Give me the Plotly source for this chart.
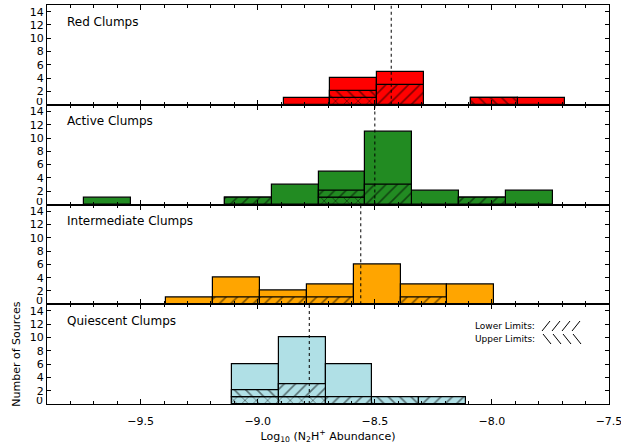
import plotly.graph_objects as go
from plotly.subplots import make_subplots

# ---- data ---------------------------------------------------------------
BIN_WIDTH = 0.2

panel_names = ["Red Clumps", "Active Clumps", "Intermediate Clumps", "Quiescent Clumps"]
panel_colors = ["#FF0000", "#228B22", "#FFA500", "#B0E0E6"]

# left edge of the first bin in each panel (log10 abundance)
bin_starts = [-8.89, -9.74, -9.39, -9.11]

# total sources per bin
red_counts = [1, 4, 5, 0, 1, 1]
active_counts = [1, 0, 0, 1, 3, 5, 11, 2, 1, 2]
intermediate_counts = [1, 4, 2, 3, 6, 3, 3]
quiescent_counts = [6, 10, 6, 1, 1]

# sources that are both upper and lower limits (cross hatch)
red_both = [0, 1, 0, 0, 0, 0]
active_both = [0, 0, 0, 0, 0, 1, 0, 0, 0, 0]
intermediate_both = [0, 0, 0, 0, 0, 0, 0]
quiescent_both = [1, 1, 0, 0, 0]

# upper limits (backslash hatch)
red_upper = [0, 1, 0, 0, 1, 0]
active_upper = [0, 0, 0, 0, 0, 0, 0, 0, 0, 0]
intermediate_upper = [0, 0, 0, 0, 0, 0, 0]
quiescent_upper = [1, 0, 0, 1, 0]

# lower limits (forward slash hatch)
red_lower = [0, 0, 3, 0, 0, 0]
active_lower = [0, 0, 0, 1, 0, 1, 3, 0, 1, 0]
intermediate_lower = [0, 1, 1, 1, 0, 1, 0]
quiescent_lower = [0, 2, 1, 0, 1]

# median abundance of each class
medians = [-8.43, -8.50, -8.56, -8.78]

x_tick_vals = [-9.5, -9.0, -8.5, -8.0, -7.5]
y_tick_vals = [2, 4, 6, 8, 10, 12, 14]

counts = [red_counts, active_counts, intermediate_counts, quiescent_counts]
both = [red_both, active_both, intermediate_both, quiescent_both]
upper = [red_upper, active_upper, intermediate_upper, quiescent_upper]
lower = [red_lower, active_lower, intermediate_lower, quiescent_lower]

# ---- layout geometry ------------------------------------------------------
W, H = 621, 444
ML, MR, MT, MB = 47, 12, 5, 40
PW, PH = W - ML - MR, H - MT - MB

FONT = "DejaVu Sans"


def px_to_paper(xp, yp):
    return (xp - ML) / PW, (H - MB - yp) / PH


fig = make_subplots(rows=4, cols=1, shared_xaxes=True, vertical_spacing=0)

outline = dict(color="black", width=1.2)

for i in range(4):
    row = i + 1
    yref = f"y{'' if row == 1 else row}"
    color = panel_colors[i]
    centers = [bin_starts[i] + BIN_WIDTH * (k + 0.5) for k in range(len(counts[i]))]

    # full histogram
    xs = [c for c, n in zip(centers, counts[i]) if n > 0]
    ys = [n for n in counts[i] if n > 0]
    fig.add_trace(go.Bar(x=xs, y=ys, width=BIN_WIDTH, marker=dict(color=color, line=outline),
                         showlegend=False, hoverinfo="skip"), row=row, col=1)

    # stacked hatched limits: both (x), upper (\), lower (/)
    base = [0] * len(centers)
    for seg, shape in ((both[i], "x"), (upper[i], "\\"), (lower[i], "/")):
        sx, sy, sb = [], [], []
        for k, n in enumerate(seg):
            if n > 0:
                sx.append(centers[k])
                sy.append(n)
                sb.append(base[k])
                base[k] += n
        if sx:
            fig.add_trace(go.Bar(
                x=sx, y=sy, base=sb, width=BIN_WIDTH,
                marker=dict(color=color, line=outline,
                            pattern=dict(shape=shape, fgcolor="black", size=8,
                                         solidity=0.2, fillmode="overlay")),
                showlegend=False, hoverinfo="skip"), row=row, col=1)

    # median marker
    fig.add_trace(go.Scatter(x=[medians[i], medians[i]], y=[0, 15], mode="lines",
                             line=dict(color="black", width=1, dash="dot"),
                             showlegend=False, hoverinfo="skip"), row=row, col=1)

    # panel label
    fig.add_annotation(text=panel_names[i], xref="x domain", yref=yref,
                       x=(65 - ML) / PW, y=12.5, xanchor="left", yanchor="middle",
                       showarrow=False, font=dict(family=FONT, size=12, color="black"))

    # zero label, nudged up off the panel boundary
    fig.add_annotation(text="0", xref="paper", yref=yref,
                       x=0, y=0, xanchor="right", yanchor="middle", xshift=-3, yshift=3.4,
                       showarrow=False, borderpad=0, height=7, valign="middle",
                       font=dict(family=FONT, size=11, color="black"))

    fig.update_yaxes(range=[0, 15], tickvals=y_tick_vals, automargin=False,
                     ticks="inside", ticklen=4, tickcolor="black", tickwidth=1,
                     showline=True, linecolor="black", linewidth=1, mirror="ticks",
                     showgrid=False, zeroline=False,
                     tickfont=dict(family=FONT, size=11, color="black"), row=row, col=1)

    fig.update_xaxes(range=[-9.9, -7.5], tickvals=x_tick_vals, tickformat=".1f",
                     automargin=False,
                     ticks="inside", ticklen=5, tickcolor="black", tickwidth=1,
                     minor=dict(dtick=0.1, tick0=-9.5, ticks="inside", ticklen=3,
                                tickcolor="black", tickwidth=1),
                     showline=True, linecolor="black", linewidth=1, mirror="ticks",
                     showgrid=False, zeroline=False, showticklabels=(row == 4),
                     ticklabeloverflow="allow", ticklabelstandoff=7,
                     tickfont=dict(family=FONT, size=11, color="black"), row=row, col=1)

fig.update_xaxes(title=dict(text="Log<sub>10</sub> (N<sub>2</sub>H<sup>+</sup> Abundance)",
                            font=dict(family=FONT, size=11, color="black"), standoff=3),
                 row=4, col=1)
fig.update_yaxes(title=dict(text="Number of Sources",
                            font=dict(family=FONT, size=11, color="black"), standoff=6),
                 row=4, col=1)

# hatch key in the bottom panel
for label, ycen in (("Lower Limits:", 326), ("Upper Limits:", 339)):
    xp, yp = px_to_paper(537, ycen)
    fig.add_annotation(text=label, xref="paper", yref="paper", x=xp, y=yp,
                       xanchor="right", yanchor="middle", showarrow=False,
                       font=dict(family=FONT, size=9, color="black"))
for k in range(4):
    x0, y0 = px_to_paper(542 + 10 * k, 331)
    x1, y1 = px_to_paper(550 + 10 * k, 321)
    fig.add_shape(type="line", xref="paper", yref="paper", x0=x0, y0=y0, x1=x1, y1=y1,
                  line=dict(color="black", width=1))
    x0, y0 = px_to_paper(543 + 10 * k, 334)
    x1, y1 = px_to_paper(551 + 10 * k, 344)
    fig.add_shape(type="line", xref="paper", yref="paper", x0=x0, y0=y0, x1=x1, y1=y1,
                  line=dict(color="black", width=1))

fig.update_layout(width=W, height=H, margin=dict(l=ML, r=MR, t=MT, b=MB),
                  barmode="overlay", bargap=0, plot_bgcolor="white", paper_bgcolor="white",
                  font=dict(family=FONT, color="black"))

fig.write_html("out.html")
